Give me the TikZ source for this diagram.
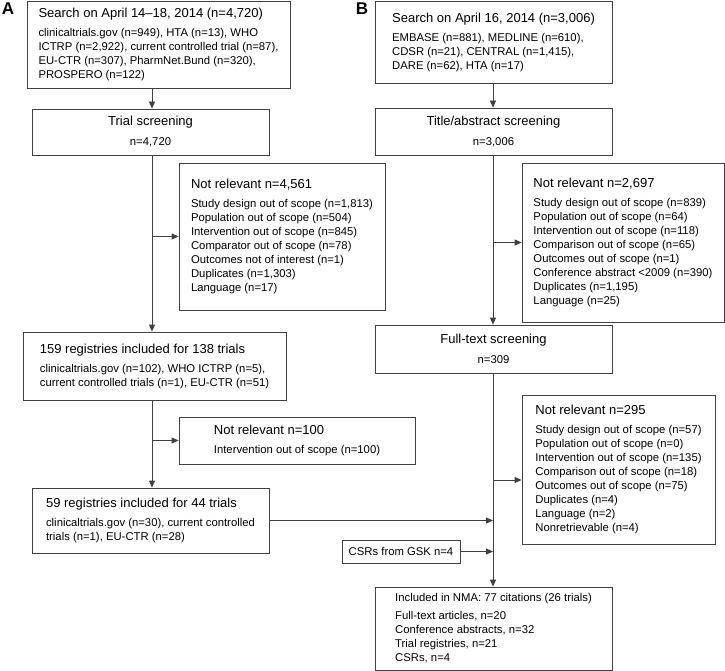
\documentclass[tikz,border=0pt]{standalone}
\usepackage{fontspec}
\setmainfont{Liberation Sans}
\usetikzlibrary{arrows.meta}

\newcommand{\boxhead}{\fontsize{13}{15}\selectfont}
\newcommand{\boxtext}{\fontsize{11.3}{14}\selectfont}

\begin{document}
\begin{tikzpicture}[x=1pt, y=-1pt]
  \colorlet{linecol}{black!75}
  \tikzset{
    flowbox/.style={rectangle, draw=linecol, line width=0.8pt,
      inner xsep=0pt, inner ysep=0pt, align=left, font=\boxtext},
    midbox/.style={flowbox, align=center},
    arr/.style={-{Triangle[length=7pt, width=6pt]}, line width=0.8pt, color=linecol},
    panel/.style={font=\fontsize{17}{17}\selectfont\bfseries}
  }
  \useasboundingbox (0,0) rectangle (725,671);
  \node[panel] (labA) at (8,9) {A};
  \node[panel] (labB) at (362,9) {B};
  % left column: registries
  \node[flowbox, minimum width=263pt, minimum height=87pt] (search1) at (158.5,44.5)
    {{\boxhead Search on April 14--18, 2014 (n=4,720)}\\[5pt]
     clinicaltrials.gov (n=949), HTA (n=13), WHO\\
     ICTRP (n=2,922), current controlled trial (n=87),\\
     EU-CTR (n=307), PharmNet.Bund (n=320),\\
     PROSPERO (n=122)};
  \node[midbox, minimum width=237pt, minimum height=46pt] (trial) at (150.5,132)
    {{\boxhead Trial screening}\\[6pt] n=4,720};
  \node[flowbox, minimum width=206pt, minimum height=147pt] (nrA1) at (282,236.5)
    {{\boxhead Not relevant n=4,561}\\[5pt]
     Study design out of scope (n=1,813)\\
     Population out of scope (n=504)\\
     Intervention out of scope (n=845)\\
     Comparator out of scope (n=78)\\
     Outcomes not of interest (n=1)\\
     Duplicates (n=1,303)\\
     Language (n=17)};
  \node[flowbox, minimum width=263pt, minimum height=68pt] (reg159) at (154.5,366)
    {{\boxhead 159 registries included for 138 trials}\\[5pt]
     clinicaltrials.gov (n=102), WHO ICTRP (n=5),\\
     current controlled trials (n=1), EU-CTR (n=51)};
  \node[flowbox, minimum width=236pt, minimum height=47pt] (nrA2) at (297,440.5)
    {{\boxhead Not relevant n=100}\\[5pt]
     Intervention out of scope (n=100)};
  \node[flowbox, minimum width=237pt, minimum height=65pt] (reg59) at (150.5,520.5)
    {{\boxhead 59 registries included for 44 trials}\\[5pt]
     clinicaltrials.gov (n=30), current controlled\\
     trials (n=1), EU-CTR (n=28)};
  % right column: literature
  \node[flowbox, minimum width=237pt, minimum height=82pt] (search2) at (493.5,42)
    {{\boxhead Search on April 16, 2014 (n=3,006)}\\[5pt]
     EMBASE (n=881), MEDLINE (n=610),\\
     CDSR (n=21), CENTRAL (n=1,415),\\
     DARE (n=62), HTA (n=17)};
  \node[midbox, minimum width=237pt, minimum height=47pt] (title) at (493.5,131.5)
    {{\boxhead Title/abstract screening}\\[6pt] n=3,006};
  \node[flowbox, minimum width=202pt, minimum height=159pt] (nrB1) at (623,242.5)
    {{\boxhead Not relevant n=2,697}\\[5pt]
     Study design out of scope (n=839)\\
     Population out of scope (n=64)\\
     Intervention out of scope (n=118)\\
     Comparison out of scope (n=65)\\
     Outcomes out of scope (n=1)\\
     Conference abstract <2009 (n=390)\\
     Duplicates (n=1,195)\\
     Language (n=25)};
  \node[midbox, minimum width=237pt, minimum height=48pt] (full) at (493.5,349)
    {{\boxhead Full-text screening}\\[6pt] n=309};
  \node[flowbox, minimum width=193pt, minimum height=149pt] (nrB2) at (618.5,469.5)
    {{\boxhead Not relevant n=295}\\[5pt]
     Study design out of scope (n=57)\\
     Population out of scope (n=0)\\
     Intervention out of scope (n=135)\\
     Comparison out of scope (n=18)\\
     Outcomes out of scope (n=75)\\
     Duplicates (n=4)\\
     Language (n=2)\\
     Nonretrievable (n=4)};
  \node[midbox, minimum width=118pt, minimum height=23pt] (csr) at (401,551.5)
    {CSRs from GSK n=4};
  \node[flowbox, minimum width=237pt, minimum height=83pt] (incl) at (493.5,628.5)
    {Included in NMA: 77 citations (26 trials)\\[4pt]
     Full-text articles, n=20\\
     Conference abstracts, n=32\\
     Trial registries, n=21\\
     CSRs, n=4};
  % connectors
  \coordinate (spineA) at (152,0);
  \coordinate (spineB) at (493,0);
  \coordinate (inB2) at ([yshift=-10.5pt]nrB2.west);
  \draw[arr] (search1.south -| spineA) -- (trial.north -| spineA);
  \draw[arr] (trial.south -| spineA) -- (reg159.north -| spineA);
  \draw[arr] (nrA1.west -| spineA) -- (nrA1.west);
  \draw[arr] (reg159.south -| spineA) -- (reg59.north -| spineA);
  \draw[arr] (nrA2.west -| spineA) -- (nrA2.west);
  \draw[arr] (reg59.east) -- (reg59.east -| spineB);
  \draw[arr] (search2.south -| spineB) -- (title.north -| spineB);
  \draw[arr] (title.south -| spineB) -- (full.north -| spineB);
  \draw[arr] (nrB1.west -| spineB) -- (nrB1.west);
  \draw[arr] (full.south -| spineB) -- (incl.north -| spineB);
  \draw[arr] (inB2 -| spineB) -- (inB2);
  \draw[arr] (csr.east) -- (csr.east -| spineB);
\end{tikzpicture}
\end{document}
